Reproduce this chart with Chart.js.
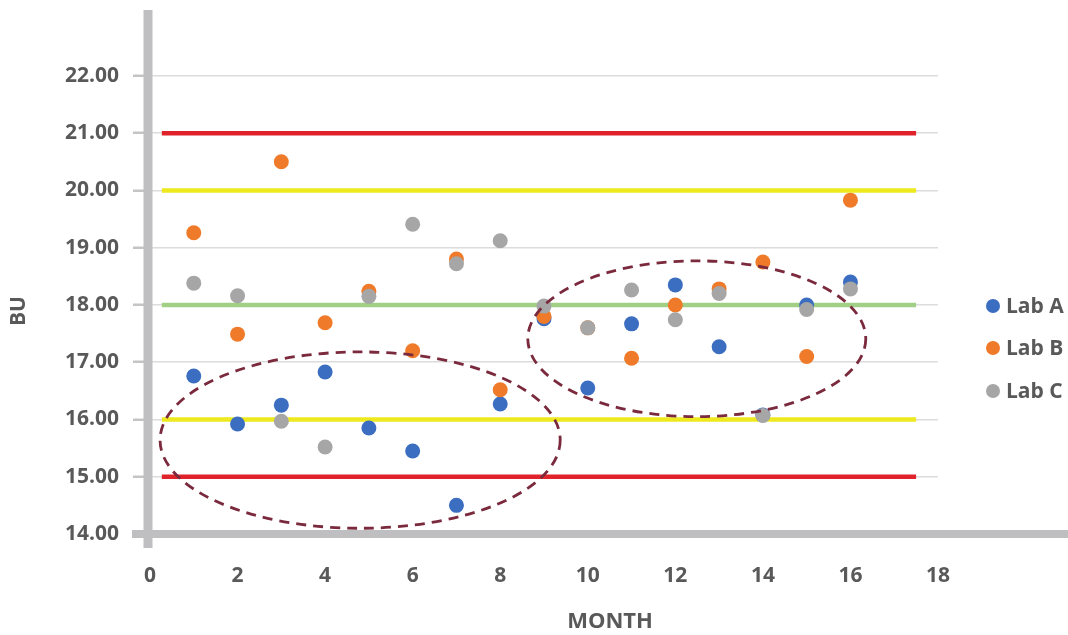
<!DOCTYPE html>
<html><head><meta charset="utf-8">
<script src="https://cdn.jsdelivr.net/npm/chart.js@4.4.1/dist/chart.umd.min.js"></script>
<style>html,body{margin:0;padding:0;background:#fff;} #wrap{width:1068px;height:635px;}</style>
</head><body><div id="wrap"><canvas id="c" width="1068" height="635"></canvas></div>
<script>
const months = [1,2,3,4,5,6,7,8,9,10,11,12,13,14,15,16];
const labA = [16.76,15.92,16.25,16.83,15.85,15.45,14.50,16.27,17.76,16.55,17.67,18.35,17.27,16.08,18.00,18.40];
const labB = [19.26,17.49,20.50,17.69,18.24,17.20,18.80,16.52,17.80,17.60,17.07,18.00,18.28,18.75,17.10,19.83];
const labC = [18.38,18.16,15.97,15.52,18.15,19.41,18.72,19.12,17.98,17.60,18.26,17.74,18.20,16.07,17.92,18.28];
const seriesNames = ['Lab A','Lab B','Lab C'];
const seriesColors = ['#3b6dc1','#ef7b2a','#a6a6a6'];
const yTickValues = [14,15,16,17,18,19,20,21,22];
const xTickValues = [0,2,4,6,8,10,12,14,16,18];
const limitLevels = [15,16,18,20,21];
const limitColors = ['#e0232a','#eee81e','#a2cf86','#eee81e','#e0232a'];
const limitStart = 0.27, limitEnd = 17.5;
const ellipseCx = [4.80, 12.49];
const ellipseCy = [15.64, 17.41];
const ellipseRx = [4.57, 3.86];
const ellipseRy = [1.54, 1.36];
const xTitle = 'MONTH';
const yTitle = 'BU';

const TEXT = '#595959';
const FAMILY = '"Open Sans", sans-serif';

const series = [labA, labB, labC];
const datasets = [];
series.forEach((vals, i) => {
  datasets.push({
    type: 'scatter',
    label: seriesNames[i],
    data: months.map((m, k) => ({x: m, y: vals[k]})),
    backgroundColor: seriesColors[i],
    borderWidth: 0,
    pointRadius: 7.5,
    pointHoverRadius: 7.5,
    order: 3 - i
  });
});
limitLevels.forEach((lv, i) => {
  datasets.push({
    type: 'line',
    label: 'limit' + lv,
    data: [{x: limitStart, y: lv}, {x: limitEnd, y: lv}],
    borderColor: limitColors[i],
    borderWidth: 4.5,
    pointRadius: 0,
    fill: false,
    order: 10
  });
});

const decor = {
  id: 'decor',
  beforeDatasetsDraw(chart) {
    const {ctx, chartArea: a} = chart;
    ctx.save();
    ctx.strokeStyle = '#bfbfc2';
    ctx.lineWidth = 8;
    ctx.beginPath(); ctx.moveTo(a.left - 18, a.bottom); ctx.lineTo(1068, a.bottom); ctx.stroke();
    ctx.lineWidth = 9;
    ctx.beginPath(); ctx.moveTo(a.left - 2, a.top); ctx.lineTo(a.left - 2, a.bottom + 14); ctx.stroke();
    ctx.restore();
  },
  afterDatasetsDraw(chart) {
    const {ctx} = chart;
    const xs = chart.scales.x, ys = chart.scales.y;
    ctx.save();
    ctx.strokeStyle = '#7a2a3c';
    ctx.lineWidth = 2.8;
    ctx.setLineDash([10, 7]);
    for (let i = 0; i < ellipseCx.length; i++) {
      const cx = xs.getPixelForValue(ellipseCx[i]);
      const cy = ys.getPixelForValue(ellipseCy[i]);
      const rx = xs.getPixelForValue(ellipseCx[i] + ellipseRx[i]) - cx;
      const ry = cy - ys.getPixelForValue(ellipseCy[i] + ellipseRy[i]);
      ctx.beginPath(); ctx.ellipse(cx, cy, rx, ry, 0, 0, Math.PI * 2); ctx.stroke();
    }
    ctx.restore();
  },
  afterDraw(chart) {
    const {ctx} = chart;
    ctx.save();
    ctx.font = 'bold 21px ' + FAMILY;
    ctx.fillStyle = TEXT;
    ctx.textBaseline = 'middle';
    const ly = [306, 348, 391];
    seriesNames.forEach((n, i) => {
      ctx.fillStyle = seriesColors[i];
      ctx.beginPath(); ctx.arc(993, ly[i], 7, 0, Math.PI * 2); ctx.fill();
      ctx.fillStyle = TEXT;
      ctx.textAlign = 'left';
      ctx.fillText(n, 1006, ly[i] + 1);
    });
    ctx.textAlign = 'center';
    ctx.font = 'bold 22px ' + FAMILY;
    ctx.fillText(xTitle, 610, 622);
    ctx.font = 'bold 21px ' + FAMILY;
    ctx.translate(19, 311);
    ctx.rotate(-Math.PI / 2);
    ctx.fillText(yTitle, 0, 0);
    ctx.restore();
  }
};

new Chart(document.getElementById('c'), {
  type: 'scatter',
  data: {datasets},
  options: {
    responsive: false,
    animation: false,
    layout: {padding: {left: 0, right: 130, top: 10, bottom: 0}},
    plugins: {legend: {display: false}, tooltip: {enabled: false}},
    scales: {
      x: {
        type: 'linear', min: 0, max: 18,
        afterBuildTicks: s => { s.ticks = xTickValues.map(v => ({value: v})); },
        afterFit: s => { s.height = 101; s.paddingLeft = 0; s.paddingRight = 0; },
        grid: {display: false, drawTicks: false},
        border: {display: false},
        ticks: {padding: 29, color: TEXT, font: {family: FAMILY, size: 21, weight: 'bold'}, maxRotation: 0}
      },
      y: {
        type: 'linear', min: 14, max: 23.15,
        afterBuildTicks: s => { s.ticks = yTickValues.map(v => ({value: v})); },
        afterFit: s => { s.width = 150; s.paddingTop = 0; s.paddingBottom = 0; },
        grid: {color: '#dcdcdc', lineWidth: 1.5, tickLength: 17, tickColor: '#c4c4c4', tickWidth: 2.5},
        border: {display: false},
        ticks: {padding: 14, color: TEXT, font: {family: FAMILY, size: 21, weight: 'bold'},
          callback: v => Number(v).toFixed(2)}
      }
    }
  },
  plugins: [decor]
});
</script>
</body></html>
